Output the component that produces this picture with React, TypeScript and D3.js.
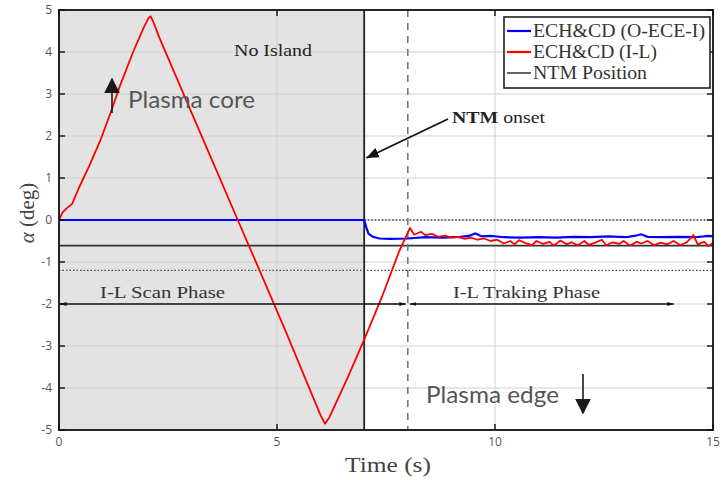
import React from "react";
import * as d3 from "d3";

// ---- data ----
const redT = [0, 0.08, 0.2, 0.3, 0.45, 0.7, 0.95, 1.2, 1.4, 1.7, 1.95, 2.05, 2.1, 2.15, 2.3, 3.0, 3.5, 4.1, 4.6, 5.2, 5.6, 6.0, 6.1, 6.2, 6.6, 7.0, 7.4, 7.8, 8.05,
  8.15, 8.3, 8.4, 8.55, 8.7, 8.85, 9.0, 9.15, 9.3, 9.45, 9.6, 9.75, 9.9, 10.05, 10.2, 10.35, 10.45, 10.55, 10.7, 10.85, 10.95, 11.1, 11.25, 11.35, 11.5,
  11.65, 11.75, 11.9, 12.05, 12.15, 12.3, 12.45, 12.55, 12.7, 12.85, 12.95, 13.1, 13.25, 13.35, 13.5, 13.65, 13.8, 13.95, 14.1, 14.25, 14.4, 14.55, 14.65, 14.8, 14.9, 15.0];
const redV = [0, 0.18, 0.3, 0.38, 0.75, 1.3, 1.9, 2.6, 3.2, 4.0, 4.6, 4.8, 4.85, 4.75, 4.35, 2.65, 1.45, 0.0, -1.2, -2.65, -3.65, -4.65, -4.85, -4.7, -3.8, -2.85, -1.85, -0.75, -0.19,
  -0.35, -0.28, -0.36, -0.33, -0.4, -0.37, -0.42, -0.4, -0.45, -0.42, -0.47, -0.44, -0.5, -0.47, -0.56, -0.5, -0.58, -0.48, -0.55, -0.6, -0.5, -0.57, -0.52, -0.61, -0.49,
  -0.58, -0.53, -0.6, -0.5, -0.59, -0.54, -0.47, -0.6, -0.53, -0.57, -0.5, -0.61, -0.52, -0.56, -0.5, -0.6, -0.54, -0.58, -0.5, -0.6, -0.53, -0.36, -0.58, -0.52, -0.62, -0.55];

const blueT = [0, 7.0, 7.05, 7.1, 7.2, 7.35, 7.6, 8.0, 8.4, 8.8, 9.2, 9.4, 9.55, 9.7, 9.9, 10.2, 10.6, 11.0, 11.4, 11.8, 12.2, 12.6, 13.0, 13.2, 13.35, 13.5, 13.8, 14.2, 14.6, 14.9, 15.0];
const blueV = [0, 0, -0.18, -0.33, -0.4, -0.44, -0.45, -0.44, -0.41, -0.42, -0.4, -0.38, -0.32, -0.39, -0.38, -0.41, -0.42, -0.41, -0.42, -0.4, -0.41, -0.39, -0.41, -0.38, -0.34, -0.4, -0.41, -0.4, -0.41, -0.38, -0.39];

const ntmPosition = -0.61;
const dottedLevels = [0, -1.2];
const onsetTime = 7;
const phaseSplit = 8;
const phaseEnd = 14.1;
const arrowLevel = -2;

const xTicks = [0, 5, 10, 15];
const yTicks = [-5, -4, -3, -2, -1, 0, 1, 2, 3, 4, 5];
const legendLabels = ["ECH&CD (O-ECE-I)", "ECH&CD (I-L)", "NTM Position"];
const legendWidths = [172, 124, 114];
const legendColors = ["#0000ff", "#ff0000", "#404040"];

const W = 723, H = 480;
const M = { left: 59, right: 10, top: 10, bottom: 50 };

export default function App() {
  const x = d3.scaleLinear().domain([0, 15]).range([M.left, W - M.right]);
  const y = d3.scaleLinear().domain([-5, 5]).range([H - M.bottom, M.top]);
  const mk = (ts: number[], vs: number[]) =>
    d3.line<number>().x((t) => x(t)).y((_, i) => y(vs[i]))(ts) || "";
  const serif = "'Liberation Serif', 'DejaVu Serif', serif";
  const sans = "'Open Sans', 'DejaVu Sans', sans-serif";
  const calib = "Lato, 'Open Sans', sans-serif";
  const x0 = x(0), x1 = x(15), yT = y(5), yB = y(-5);
  return (
    <svg width={W} height={H} style={{ position: "absolute", left: 0, top: 0, background: "#fff" }}>
      <defs>
        <marker id="ah" viewBox="0 0 10 10" refX="10" refY="5" markerWidth="7" markerHeight="7" orient="auto-start-reverse">
          <path d="M0,1 L10,5 L0,9 z" fill="#111" />
        </marker>
        <marker id="ahs" viewBox="0 0 10 10" refX="10" refY="5" markerWidth="5" markerHeight="5" orient="auto-start-reverse">
          <path d="M0,2 L10,5 L0,8 z" fill="#111" />
        </marker>
        <marker id="ahb" viewBox="0 0 10 10" refX="9" refY="5" markerWidth="10" markerHeight="10" orient="auto" markerUnits="strokeWidth">
          <path d="M0,0 L10,5 L0,10 z" fill="#1a1a1a" />
        </marker>
        <clipPath id="plot"><rect x={x0} y={yT} width={x1 - x0} height={yB - yT} /></clipPath>
      </defs>
      {/* shaded No Island region */}
      <rect x={x0} y={yT} width={x(onsetTime) - x0} height={yB - yT} fill="#e3e3e3" />
      {/* grid */}
      {yTicks.map((v) => (
        <line key={"gy" + v} x1={x0} x2={x1} y1={y(v)} y2={y(v)} stroke="#cfcfcf" strokeWidth={1} />
      ))}
      {xTicks.slice(1, -1).map((v) => (
        <line key={"gx" + v} x1={x(v)} x2={x(v)} y1={yT} y2={yB} stroke="#cfcfcf" strokeWidth={1} />
      ))}
      {/* dotted levels */}
      {dottedLevels.map((v) => (
        <line key={"d" + v} x1={v === 0 ? x(onsetTime) : x0} x2={x1} y1={y(v)} y2={y(v)} stroke="#444" strokeWidth={1.3} strokeDasharray="1.5,2" />
      ))}
      {/* NTM position */}
      <line x1={x0} x2={x1} y1={y(ntmPosition)} y2={y(ntmPosition)} stroke="#333" strokeWidth={1.6} />
      {/* onset + phase split lines */}
      <line x1={x(onsetTime)} x2={x(onsetTime)} y1={yT} y2={yB} stroke="#222" strokeWidth={1.8} />
      <line x1={x(phaseSplit)} x2={x(phaseSplit)} y1={yT} y2={yB} stroke="#777" strokeWidth={1.6} strokeDasharray="7,6" />
      {/* series */}
      <g clipPath="url(#plot)">
        <path d={mk(blueT, blueV)} fill="none" stroke="#0000ff" strokeWidth={2.2} />
        <path d={mk(redT, redV)} fill="none" stroke="#ff0000" strokeWidth={1.8} strokeLinejoin="round" />
      </g>
      {/* phase arrows */}
      <line x1={x0 + 1} x2={x(phaseSplit) - 2} y1={y(arrowLevel)} y2={y(arrowLevel)} stroke="#111" strokeWidth={1.3} markerStart="url(#ahs)" markerEnd="url(#ahs)" />
      <line x1={x(phaseSplit) + 2} x2={x(phaseEnd)} y1={y(arrowLevel)} y2={y(arrowLevel)} stroke="#111" strokeWidth={1.3} markerStart="url(#ahs)" markerEnd="url(#ahs)" />
      <text x={100} y={y(arrowLevel) - 6} fontFamily={serif} fontSize={17} fill="#333" textLength={125} lengthAdjust="spacingAndGlyphs">I-L Scan Phase</text>
      <text x={453} y={y(arrowLevel) - 6} fontFamily={serif} fontSize={17} fill="#333" textLength={147} lengthAdjust="spacingAndGlyphs">I-L Traking Phase</text>
      {/* axes box */}
      <rect x={x0} y={yT} width={x1 - x0} height={yB - yT} fill="none" stroke="#111" strokeWidth={1.8} />
      {yTicks.map((v) => (
        <g key={"ty" + v}>
          <line x1={x0} x2={x0 + 6} y1={y(v)} y2={y(v)} stroke="#111" strokeWidth={1.4} />
          <line x1={x1} x2={x1 - 6} y1={y(v)} y2={y(v)} stroke="#111" strokeWidth={1.4} />
          <text x={x0 - 7} y={y(v) + 4} fontFamily={sans} fontSize={12} fill="#555" textAnchor="end">{v}</text>
        </g>
      ))}
      {xTicks.map((v) => (
        <g key={"tx" + v}>
          <line x1={x(v)} x2={x(v)} y1={yB} y2={yB - 6} stroke="#111" strokeWidth={1.4} />
          <line x1={x(v)} x2={x(v)} y1={yT} y2={yT + 6} stroke="#111" strokeWidth={1.4} />
          <text x={x(v)} y={yB + 16} fontFamily={sans} fontSize={12} fill="#555" textAnchor="middle">{v}</text>
        </g>
      ))}
      {/* axis labels */}
      <text x={345} y={472} fontFamily={serif} fontSize={22} fill="#444" textLength={86} lengthAdjust="spacingAndGlyphs">Time (s)</text>
      <text transform={`translate(34,213) rotate(-90)`} fontFamily={serif} fontSize={21} fill="#444" textAnchor="middle">
        <tspan fontStyle="italic">α</tspan> (deg)
      </text>
      {/* annotations */}
      <text x={234} y={56} fontFamily={serif} fontSize={17} fill="#222" textLength={78} lengthAdjust="spacingAndGlyphs">No Island</text>
      <text x={452} y={123} fontFamily={serif} fontSize={17} fill="#222" textLength={93} lengthAdjust="spacingAndGlyphs"><tspan fontWeight="bold">NTM</tspan> onset</text>
      <line x1={448} y1={119} x2={x(onsetTime) + 2} y2={158} stroke="#111" strokeWidth={1.8} markerEnd="url(#ah)" />
      <line x1={112} y1={113} x2={112} y2={79} stroke="#1a1a1a" strokeWidth={1.6} markerEnd="url(#ahb)" />
      <text x={128} y={108} fontFamily={calib} fontSize={23} fill="#555" textLength={127} lengthAdjust="spacingAndGlyphs">Plasma core</text>
      <text x={426} y={403} fontFamily={calib} fontSize={23} fill="#555" textLength={133} lengthAdjust="spacingAndGlyphs">Plasma edge</text>
      <line x1={583} y1={374} x2={583} y2={413} stroke="#1a1a1a" strokeWidth={1.6} markerEnd="url(#ahb)" />
      {/* legend */}
      <g>
        <rect x={504} y={17} width={206} height={71} fill="#fff" stroke="#222" strokeWidth={1.6} />
        {legendLabels.map((l, i) => (
          <g key={l}>
            <line x1={507} x2={531} y1={31 + i * 21} y2={31 + i * 21} stroke={legendColors[i]} strokeWidth={i === 2 ? 1.6 : 2.2} />
            <text x={533} y={37 + i * 21} fontFamily={serif} fontSize={18} fill="#333" textLength={legendWidths[i]} lengthAdjust="spacingAndGlyphs">{l}</text>
          </g>
        ))}
      </g>
    </svg>
  );
}
